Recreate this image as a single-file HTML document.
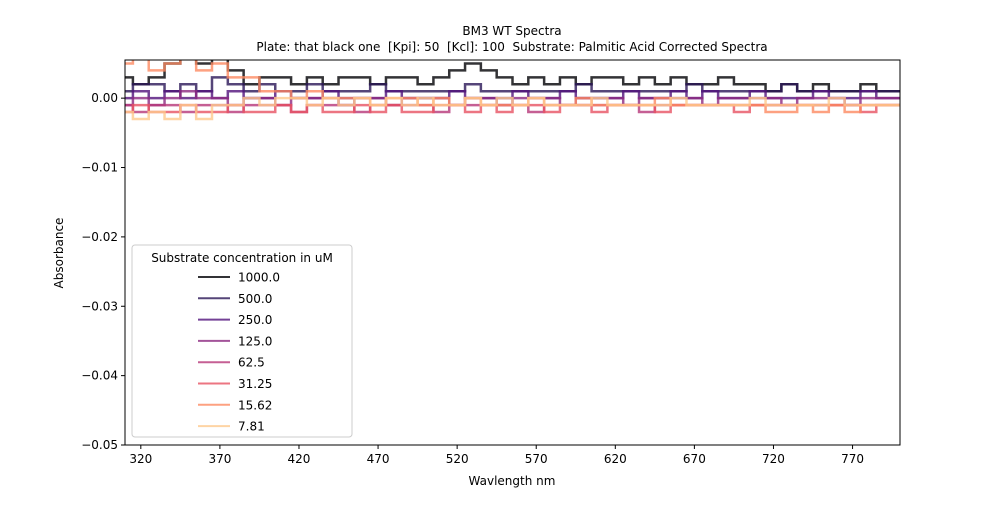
<!DOCTYPE html>
<html><head><meta charset="utf-8"><style>
body{margin:0;background:#fff;width:1000px;height:500px;overflow:hidden}
svg{font-family:"DejaVu Sans","Liberation Sans",sans-serif}
</style></head><body>
<svg id="chart" width="1000" height="500" xmlns="http://www.w3.org/2000/svg">
<text x="512" y="35" font-size="12" text-anchor="middle">BM3 WT Spectra</text>
<text x="512" y="51" font-size="12" text-anchor="middle" style="white-space:pre">Plate: that black one  [Kpi]: 50  [Kcl]: 100  Substrate: Palmitic Acid Corrected Spectra</text>
<text x="512" y="485" font-size="12" text-anchor="middle">Wavlength nm</text>
<text x="63" y="253" font-size="12" text-anchor="middle" transform="rotate(-90 63 253)">Absorbance</text>
<g id="plot"></g>
<rect x="125" y="60" width="775" height="385" fill="none" stroke="#000" stroke-width="1"/>
<g id="ticks"></g>
<g id="legend"></g>
</svg>
<script>
const xTicks=[320,370,420,470,520,570,620,670,720,770];
const yTicks=[0,-0.01,-0.02,-0.03,-0.04,-0.05];
const yTickLabels=["0.00","\u22120.01","\u22120.02","\u22120.03","\u22120.04","\u22120.05"];
const seriesNames=["1000.0","500.0","250.0","125.0","62.5","31.25","15.62","7.81"];
const seriesColors=["#000004","#2b1658","#51127c","#8c2981","#b73779","#e75263","#fc8961","#fec98d"];
const wavelengths=[310,320,330,340,350,360,370,380,390,400,410,420,430,440,450,460,470,480,490,500,510,520,530,540,550,560,570,580,590,600,610,620,630,640,650,660,670,680,690,700,710,720,730,740,750,760,770,780,790,800];
// values in units of 0.001 absorbance
const s1000=[3,2,3,5,6,5,6,4,2,3,3,2,3,2,3,3,2,3,3,2,3,4,5,4,3,2,3,2,3,2,3,3,2,3,2,3,2,2,3,2,2,1,2,1,2,1,1,2,1,1];
const s500=[1,2,2,1,2,1,3,2,1,2,1,1,2,1,1,1,2,1,1,1,1,1,2,1,1,1,1,1,1,2,1,1,1,1,1,1,2,1,1,1,1,1,2,1,1,1,1,1,1,1];
const s250=[0,1,0,1,0,1,0,1,0,0,1,0,0,1,0,0,0,1,0,0,0,1,0,0,0,1,0,0,1,0,0,0,1,0,0,1,0,1,0,0,1,0,0,0,1,0,0,1,0,0];
const s125=[-1,0,-1,0,1,0,0,-1,0,0,-1,0,0,0,-1,0,0,-1,0,0,0,-1,0,0,-1,0,0,0,-1,0,0,0,-1,0,0,0,0,-1,0,0,0,0,-1,0,0,0,-1,0,0,0];
const s62=[-1,-2,-1,-1,-2,-1,-1,-2,-1,-1,-1,-2,-1,-1,-1,-2,-1,-1,-1,-1,-2,-1,-1,-1,-1,-1,-2,-1,-1,-1,-1,-1,-1,-2,-1,-1,-1,-1,-1,-1,-1,-1,-1,-1,-1,-1,-1,-1,-1,-1];
const s31=[-2,-1,-2,-2,-1,-2,-2,-1,-2,-2,-1,-2,-1,-2,-2,-1,-2,-1,-2,-2,-1,-1,-2,-1,-2,-1,-1,-2,-1,-1,-2,-1,-1,-1,-2,-1,-1,-1,-1,-2,-1,-1,-1,-1,-1,-1,-1,-2,-1,-1];
const s15=[5,6,4,5,6,4,5,3,3,1,1,0,1,0,0,0,-1,0,0,-1,0,-1,0,-1,-1,-1,0,-1,-1,0,-1,-1,-1,-1,0,-1,-1,-1,-1,-1,-1,-2,-2,-1,-2,-1,-2,-1,-1,-1];
const s7=[-2,-3,-2,-3,-1,-3,-1,-1,0,-1,0,0,-1,0,-1,0,-1,0,-1,0,-1,-1,0,-1,0,-1,0,-1,-1,-1,0,-1,-1,-1,-1,0,-1,-1,-1,-1,0,-1,-1,-1,-1,0,-1,-1,-1,-1];
const seriesValues=[s1000,s500,s250,s125,s62,s31,s15,s7];

const X0=125,X1=900,Y0=60,Y1=445,xMin=310,xMax=800,yMin=-0.05,yMax=0.0055;
const xs=v=>X0+(v-xMin)/(xMax-xMin)*(X1-X0);
const ys=v=>Y1-(v-yMin)/(yMax-yMin)*(Y1-Y0);
const NS="http://www.w3.org/2000/svg";
const plot=document.getElementById('plot'),ticks=document.getElementById('ticks'),legend=document.getElementById('legend');
const clip=document.createElementNS(NS,'clipPath');clip.setAttribute('id','c');
const cr=document.createElementNS(NS,'rect');cr.setAttribute('x',X0);cr.setAttribute('y',Y0);cr.setAttribute('width',X1-X0);cr.setAttribute('height',Y1-Y0);
clip.appendChild(cr);plot.appendChild(clip);plot.setAttribute('clip-path','url(#c)');
seriesValues.forEach((vals,i)=>{
  let d='';
  vals.forEach((v,j)=>{
    const x=xs(wavelengths[j]),y=ys(v/1000);
    if(j===0)d+='M'+x+' '+y;else{const xp=xs(wavelengths[j]-5);d+='L'+xp+' '+ys(vals[j-1]/1000)+'L'+xp+' '+y+'L'+x+' '+y;}
  });
  const p=document.createElementNS(NS,'path');
  p.setAttribute('d',d);p.setAttribute('fill','none');p.setAttribute('stroke',seriesColors[i]);
  p.setAttribute('stroke-width','2.5');p.setAttribute('stroke-opacity','0.8');
  
  
  plot.appendChild(p);
});
xTicks.forEach(t=>{
  const x=xs(t);
  const l=document.createElementNS(NS,'line');l.setAttribute('x1',x);l.setAttribute('x2',x);l.setAttribute('y1',Y1);l.setAttribute('y2',Y1+4);l.setAttribute('stroke','#000');
  
  
  ticks.appendChild(l);
  const tx=document.createElementNS(NS,'text');tx.setAttribute('x',x);tx.setAttribute('y',Y1+18);tx.setAttribute('font-size','12');tx.setAttribute('text-anchor','middle');tx.textContent=t;
  
  
  ticks.appendChild(tx);
});
yTicks.forEach((t,i)=>{
  const y=ys(t);
  const l=document.createElementNS(NS,'line');l.setAttribute('x1',X0-4);l.setAttribute('x2',X0);l.setAttribute('y1',y);l.setAttribute('y2',y);l.setAttribute('stroke','#000');
  
  
  ticks.appendChild(l);
  const tx=document.createElementNS(NS,'text');tx.setAttribute('x',X0-7);tx.setAttribute('y',y+4);tx.setAttribute('font-size','12');tx.setAttribute('text-anchor','end');tx.textContent=yTickLabels[i];
  
  
  ticks.appendChild(tx);
});
const box=document.createElementNS(NS,'rect');
box.setAttribute('x',132);box.setAttribute('y',245);box.setAttribute('width',220);box.setAttribute('height',192);box.setAttribute('rx',3);
box.setAttribute('fill','#fff');box.setAttribute('fill-opacity','0.8');box.setAttribute('stroke','#ccc');


legend.appendChild(box);
const lt=document.createElementNS(NS,'text');lt.setAttribute('x',242);lt.setAttribute('y',262);lt.setAttribute('font-size','12');lt.setAttribute('text-anchor','middle');lt.textContent='Substrate concentration in uM';


legend.appendChild(lt);
seriesNames.forEach((n,i)=>{
  const y=277+i*21.3;
  const g=document.createElementNS(NS,'g');
  
  
  const l=document.createElementNS(NS,'line');l.setAttribute('x1',198);l.setAttribute('x2',230);l.setAttribute('y1',y);l.setAttribute('y2',y);
  l.setAttribute('stroke',seriesColors[i]);l.setAttribute('stroke-width','2');l.setAttribute('stroke-opacity','0.8');
  g.appendChild(l);
  const t=document.createElementNS(NS,'text');t.setAttribute('x',238);t.setAttribute('y',y+4.5);t.setAttribute('font-size','12');t.textContent=n;
  g.appendChild(t);
  legend.appendChild(g);
});
</script>
</body></html>
